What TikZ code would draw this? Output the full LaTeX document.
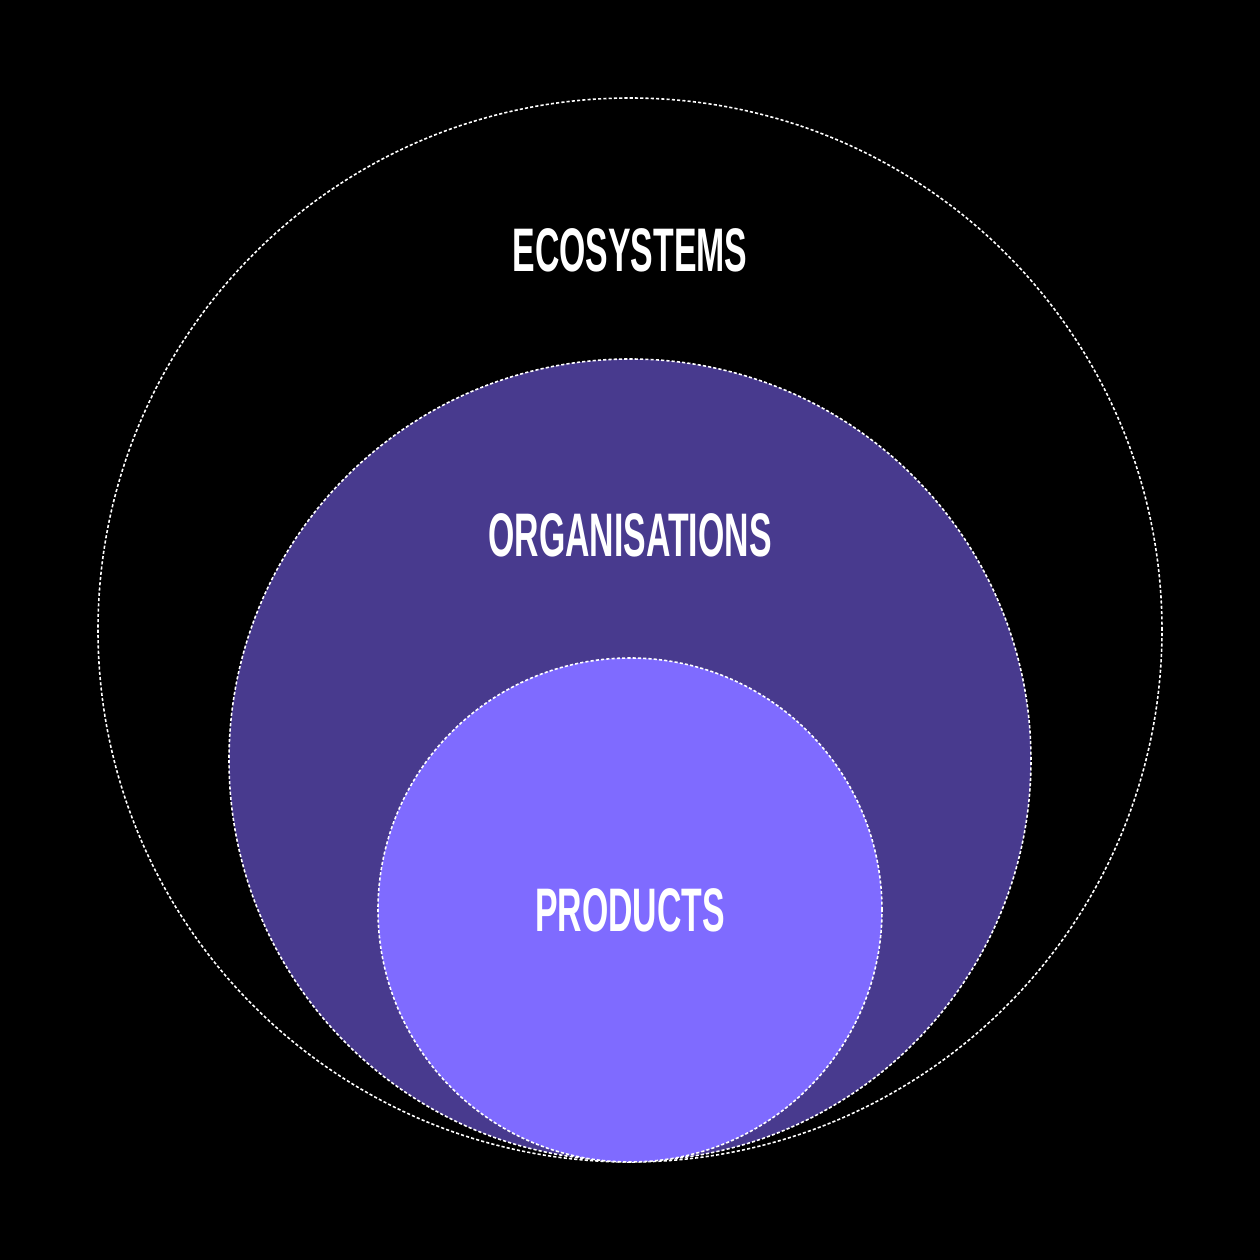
\documentclass[tikz,border=0pt]{standalone}
\usepackage{fontspec}
\newfontfamily\labelfont[FakeStretch=0.55]{Liberation Sans}
\usetikzlibrary{positioning}

\definecolor{orgfill}{HTML}{483A8E}
\definecolor{prodfill}{HTML}{7F6BFF}

\begin{document}
\begin{tikzpicture}

% ring style
\tikzstyle{ring} = [
    draw = white,
    circle,
    inner sep = 0pt,
    line width = 0.45pt,
    dash pattern = on 0.9pt off 0.6pt
]

% label style
\tikzstyle{lbl} = [
    text = white,
    font = \labelfont\bfseries\fontsize{17.5}{20}\selectfont
]

% Background and bounding box.
\fill [black] (0,0) rectangle (12.6,12.6);
\useasboundingbox (0,0) rectangle (12.6,12.6);

% Place the circles.
\node [ring, minimum size = 10.64cm] (eco) at (6.3,6.3) {};
\node [ring, fill = orgfill, minimum size = 8.02cm] (org) at (6.3,5.0) {};
\node [ring, fill = prodfill, minimum size = 5.04cm] (prod) at (6.3,3.5) {};

% Place the labels.
\node [lbl] (eco-label) at (6.3,10.1) {ECOSYSTEMS};
\node [lbl] (org-label) at (6.3,7.25) {ORGANISATIONS};
\node [lbl] (prod-label) at (prod) {PRODUCTS};

\end{tikzpicture}
\end{document}
